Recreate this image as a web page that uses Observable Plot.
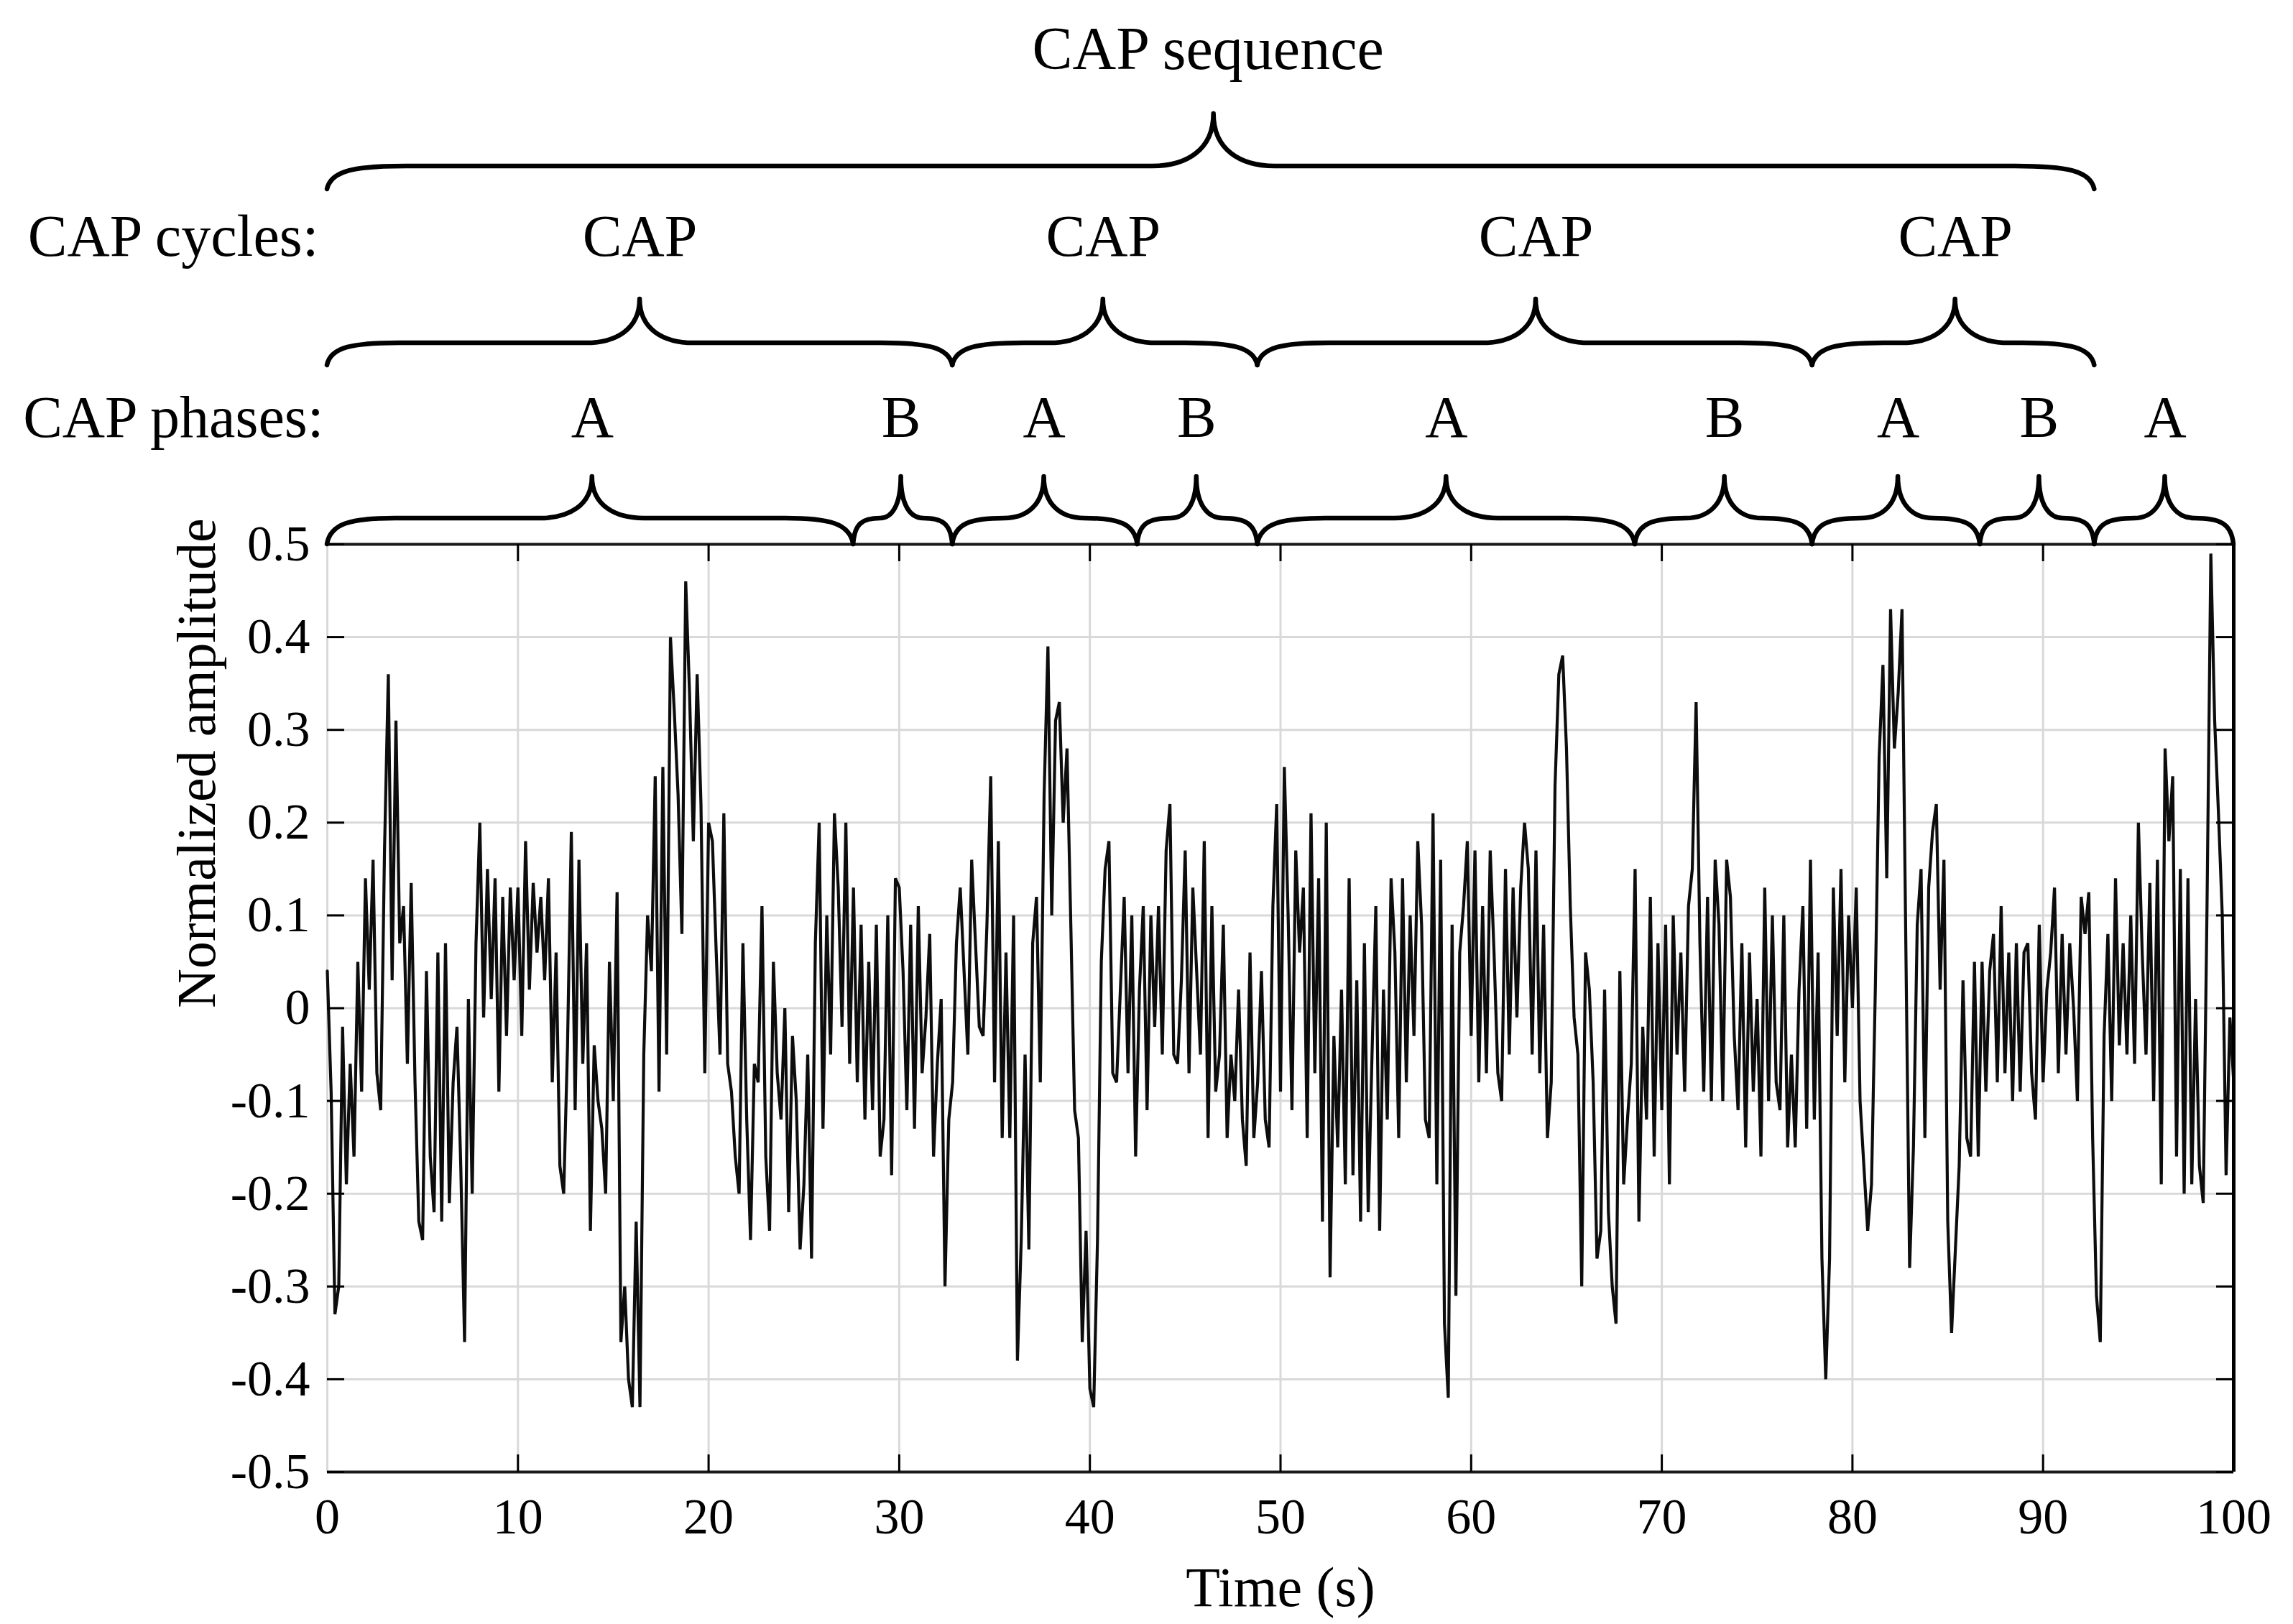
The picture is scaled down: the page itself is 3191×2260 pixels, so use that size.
<!DOCTYPE html>
<html>
<head>
<meta charset="utf-8">
<script src="https://cdn.jsdelivr.net/npm/d3@7"></script>
<script src="https://cdn.jsdelivr.net/npm/@observablehq/plot@0.6"></script>
<style>
  html, body { margin: 0; padding: 0; background: #ffffff; }
  #chart svg { display: block; }
</style>
</head>
<body>
<div id="chart"></div>
<script>
// ---------------- data ----------------
const sampleStep = 0.2; // seconds between samples

// 0.0 s – 13.6 s
const amp00 = [0.04,-0.09,-0.33,-0.3,-0.02,-0.19,-0.06,-0.16,0.05,-0.09,
  0.14,0.02,0.16,-0.07,-0.11,0.17,0.36,0.03,0.31,0.07,
  0.11,-0.06,0.135,-0.08,-0.23,-0.25,0.04,-0.16,-0.22,0.06,
  -0.23,0.07,-0.21,-0.08,-0.02,-0.17,-0.36,0.01,-0.2,0.07,
  0.2,-0.01,0.15,0.01,0.14,-0.09,0.12,-0.03,0.13,0.03,
  0.13,-0.03,0.18,0.02,0.135,0.06,0.12,0.03,0.14,-0.08,
  0.06,-0.17,-0.2,-0.04,0.19,-0.11,0.16,-0.06,0.07];
// 13.8 s – 29.0 s
const amp14 = [-0.24,-0.04,-0.1,-0.13,-0.2,0.05,-0.1,0.125,-0.36,-0.3,
  -0.4,-0.43,-0.23,-0.43,-0.05,0.1,0.04,0.25,-0.09,0.26,
  -0.05,0.4,0.32,0.23,0.08,0.46,0.34,0.18,0.36,0.22,
  -0.07,0.2,0.18,0.06,-0.05,0.21,-0.06,-0.09,-0.16,-0.2,
  0.07,-0.12,-0.25,-0.06,-0.08,0.11,-0.16,-0.24,0.05,-0.07,
  -0.12,0.0,-0.22,-0.03,-0.1,-0.26,-0.19,-0.05,-0.27,0.07,
  0.2,-0.13,0.1,-0.05,0.21,0.13,-0.02,0.2,-0.06,0.13,
  -0.08,0.09,-0.12,0.05,-0.11,0.09,-0.16];
// 29.2 s – 44.4 s
const amp29 = [-0.12,0.1,-0.18,0.14,0.13,0.04,-0.11,0.09,-0.13,0.11,
  -0.07,-0.01,0.08,-0.16,-0.06,0.01,-0.3,-0.12,-0.08,0.07,
  0.13,0.04,-0.05,0.16,0.07,-0.02,-0.03,0.09,0.25,-0.08,
  0.18,-0.14,0.06,-0.14,0.1,-0.38,-0.25,-0.05,-0.26,0.07,
  0.12,-0.08,0.23,0.39,0.1,0.31,0.33,0.2,0.28,0.09,
  -0.11,-0.14,-0.36,-0.24,-0.41,-0.43,-0.25,0.05,0.15,0.18,
  -0.07,-0.08,0.02,0.12,-0.07,0.1,-0.16,0.02,0.11,-0.11,
  0.1,-0.02,0.11,-0.05,0.17,0.22,-0.05];
// 44.6 s – 60.0 s
const amp45 = [-0.06,0.03,0.17,-0.07,0.13,0.04,-0.05,0.18,-0.14,0.11,
  -0.09,-0.05,0.09,-0.14,-0.05,-0.1,0.02,-0.12,-0.17,0.06,
  -0.14,-0.08,0.04,-0.12,-0.15,0.11,0.22,-0.09,0.26,0.1,
  -0.11,0.17,0.06,0.13,-0.14,0.21,-0.07,0.14,-0.23,0.2,
  -0.29,-0.03,-0.15,0.02,-0.19,0.14,-0.18,0.03,-0.23,0.07,
  -0.22,-0.05,0.11,-0.24,0.02,-0.12,0.14,0.06,-0.14,0.14,
  -0.08,0.1,-0.03,0.18,0.09,-0.12,-0.14,0.21,-0.19,0.16,
  -0.34,-0.42,0.09,-0.31,0.06,0.11,0.18,-0.03];
// 60.2 s – 75.4 s
const amp60 = [0.17,-0.08,0.11,-0.07,0.17,0.06,-0.07,-0.1,0.15,-0.05,
  0.13,-0.01,0.13,0.2,0.15,-0.05,0.17,-0.07,0.09,-0.14,
  -0.08,0.24,0.36,0.38,0.28,0.11,-0.01,-0.05,-0.3,0.06,
  0.02,-0.08,-0.27,-0.24,0.02,-0.22,-0.3,-0.34,0.04,-0.19,
  -0.12,-0.06,0.15,-0.23,-0.02,-0.12,0.12,-0.16,0.07,-0.11,
  0.09,-0.19,0.1,-0.05,0.06,-0.09,0.11,0.15,0.33,0.07,
  -0.09,0.12,-0.1,0.16,0.09,-0.1,0.16,0.12,-0.03,-0.11,
  0.07,-0.15,0.06,-0.09,0.01,-0.16,0.13];
// 75.6 s – 90.8 s
const amp76 = [-0.1,0.1,-0.08,-0.11,0.1,-0.15,-0.05,-0.15,0.02,0.11,
  -0.13,0.16,-0.12,0.06,-0.27,-0.4,-0.27,0.13,-0.03,0.15,
  -0.08,0.1,0.0,0.13,-0.1,-0.17,-0.24,-0.19,0.02,0.27,
  0.37,0.14,0.43,0.28,0.34,0.43,0.07,-0.28,-0.15,0.09,
  0.15,-0.14,0.13,0.19,0.22,0.02,0.16,-0.23,-0.35,-0.26,
  -0.17,0.03,-0.14,-0.16,0.05,-0.16,0.05,-0.09,0.04,0.08,
  -0.08,0.11,-0.07,0.06,-0.1,0.07,-0.09,0.06,0.07,-0.07,
  -0.12,0.09,-0.08,0.02,0.06,0.13,-0.07];
// 91.0 s – 100.0 s
const amp91 = [0.08,-0.05,0.07,0.0,-0.1,0.12,0.08,0.125,-0.14,-0.31,
  -0.36,-0.03,0.08,-0.1,0.14,-0.04,0.07,-0.05,0.1,-0.06,
  0.2,0.06,-0.05,0.135,-0.1,0.16,-0.19,0.28,0.18,0.25,
  -0.16,0.15,-0.2,0.14,-0.19,0.01,-0.17,-0.21,0.11,0.49,
  0.31,0.21,0.1,-0.18,-0.01,-0.08];

// axis ticks
const xTicks = [0, 10, 20, 30, 40, 50, 60, 70, 80, 90, 100];
const yTicks = [-0.5, -0.4, -0.3, -0.2, -0.1, 0, 0.1, 0.2, 0.3, 0.4, 0.5];

// annotation structure (times in seconds)
const phaseBounds = [0, 27.6, 32.8, 42.5, 48.8, 68.6, 77.9, 86.7, 92.7, 100];
const phaseTips   = [13.9, 30.1, 37.6, 45.6, 58.7, 73.3, 82.4, 89.8, 96.4];
const phaseLabels = ["A", "B", "A", "B", "A", "B", "A", "B", "A"];
const cycleBounds = [0, 32.8, 48.8, 77.9, 92.7];
const cycleTips   = [16.4, 40.7, 63.4, 85.4];
const cycleLabels = ["CAP", "CAP", "CAP", "CAP"];
const sequenceBounds = [0, 92.7];
const sequenceTips   = [46.5];
const sequenceLabels = ["CAP sequence"];

// ---------------- build tables ----------------
const amplitude = [].concat(amp00, amp14, amp29, amp45, amp60, amp76, amp91);
const series = amplitude.map((v, i) => ({time: +(i * sampleStep).toFixed(2), value: v}));

const rowsOf = (bounds, tips, labels) =>
  tips.map((tip, i) => ({x1: bounds[i], x2: bounds[i + 1], tip, label: labels[i]}));
const phaseRows = rowsOf(phaseBounds, phaseTips, phaseLabels);
const cycleRows = rowsOf(cycleBounds, cycleTips, cycleLabels);
const sequenceRows = rowsOf(sequenceBounds, sequenceTips, sequenceLabels);

// ---------------- layout ----------------
const W = 3191, H = 2260;
const mL = 455, mR = 83, mT = 757, mB = 212;
const frameW = W - mL - mR, frameH = H - mT - mB;
const tickLen = 24;
const FONT = "'Liberation Serif', 'Times New Roman', Times, serif";

// brace geometry (pixels above frame top): base, flat, tip
const braceGeom = {
  phase:    {base: 0,   flat: 36,  tip: 94,  rEnd: 95,  rTip: 72},
  cycle:    {base: 249, flat: 280, tip: 341, rEnd: 100, rTip: 75},
  sequence: {base: 494, flat: 526, tip: 599, rEnd: 110, rTip: 85}
};

function bracePath(xa, xb, xm, yBase, yFlat, yTip, rEnd, rTip) {
  const kl = Math.min(1, (xm - xa) / (rEnd + rTip));
  const kr = Math.min(1, (xb - xm) / (rEnd + rTip));
  const reL = rEnd * kl, rtL = rTip * kl, reR = rEnd * kr, rtR = rTip * kr;
  const dE = yBase - yFlat, dT = yFlat - yTip;
  const p = d3.path();
  p.moveTo(xa, yBase);
  p.bezierCurveTo(xa + 0.05 * reL, yBase - 0.8 * dE, xa + 0.35 * reL, yFlat, xa + reL, yFlat);
  p.lineTo(xm - rtL, yFlat);
  p.bezierCurveTo(xm - 0.45 * rtL, yFlat, xm, yFlat - 0.3 * dT, xm, yTip);
  p.bezierCurveTo(xm, yFlat - 0.3 * dT, xm + 0.45 * rtR, yFlat, xm + rtR, yFlat);
  p.lineTo(xb - reR, yFlat);
  p.bezierCurveTo(xb - 0.35 * reR, yFlat, xb - 0.05 * reR, yBase - 0.8 * dE, xb, yBase);
  return p.toString();
}

const braces = (rows, geom) => (index, scales, values, dimensions) => {
  const sx = scales.x;
  const top = (dimensions && dimensions.marginTop != null) ? dimensions.marginTop : mT;
  const g = d3.create("svg:g")
    .attr("fill", "none")
    .attr("stroke", "#000")
    .attr("stroke-width", 6.5)
    .attr("stroke-linejoin", "round")
    .attr("stroke-linecap", "round");
  for (const r of rows) {
    g.append("path").attr("d", bracePath(
      sx(r.x1), sx(r.x2), sx(r.tip),
      top - geom.base, top - geom.flat, top - geom.tip,
      geom.rEnd, geom.rTip));
  }
  return g.node();
};

const fmtY = d => String(Math.round(d * 10) / 10);
const innerX = xTicks.filter(d => d > 0 && d < 100);

const chart = Plot.plot({
  width: W,
  height: H,
  marginLeft: mL,
  marginRight: mR,
  marginTop: mT,
  marginBottom: mB,
  style: {fontFamily: FONT, background: "#ffffff", color: "#000000", overflow: "visible"},
  x: {domain: [0, 100]},
  y: {domain: [-0.5, 0.5]},
  marks: [
    // grid
    Plot.ruleX(xTicks, {x: d => d, stroke: "#d9d9d9", strokeWidth: 3}),
    Plot.ruleY(yTicks, {y: d => d, stroke: "#d9d9d9", strokeWidth: 3}),
    // signal
    Plot.line(series, {x: "time", y: "value", stroke: "#0d0d0d", strokeWidth: 4.2, strokeLinejoin: "miter", strokeMiterlimit: 2.5}),
    // frame (left side stays grey like the reference)
    Plot.ruleY([-0.5, 0.5], {y: d => d, stroke: "#1a1a1a", strokeWidth: 4}),
    Plot.ruleX([100], {x: d => d, stroke: "#000000", strokeWidth: 5}),
    // inward ticks
    Plot.tickY(yTicks, {y: d => d, insetRight: frameW - tickLen, stroke: "#000", strokeWidth: 3}),
    Plot.tickY(yTicks, {y: d => d, insetLeft: frameW - tickLen, stroke: "#000", strokeWidth: 3}),
    Plot.tickX(innerX, {x: d => d, insetTop: frameH - tickLen, stroke: "#000", strokeWidth: 3}),
    Plot.tickX(innerX, {x: d => d, insetBottom: frameH - tickLen, stroke: "#000", strokeWidth: 3}),
    // axes
    Plot.axisX(xTicks, {tickSize: 0, tickPadding: 36, fontSize: 70, label: null, tickFormat: d => String(d)}),
    Plot.axisY(yTicks, {tickSize: 0, tickPadding: 24, fontSize: 70, label: null, tickFormat: fmtY}),
    Plot.text(["Time (s)"], {frameAnchor: "bottom", dy: 186, lineAnchor: "bottom", fontSize: 78}),
    Plot.text(["Normalized amplitude"], {frameAnchor: "left", dx: -157, rotate: -90, lineAnchor: "bottom", fontSize: 76}),
    // annotation labels
    Plot.text(phaseRows, {x: "tip", text: "label", frameAnchor: "top", dy: -150, lineAnchor: "bottom", fontSize: 82}),
    Plot.text(cycleRows, {x: "tip", text: "label", frameAnchor: "top", dy: -402, lineAnchor: "bottom", fontSize: 82}),
    Plot.text(sequenceRows, {x: "tip", text: "label", frameAnchor: "top", dx: -8, dy: -662, lineAnchor: "bottom", fontSize: 84}),
    Plot.text(["CAP cycles:"], {frameAnchor: "top-left", dx: -12, dy: -402, textAnchor: "end", lineAnchor: "bottom", fontSize: 82}),
    Plot.text(["CAP phases:"], {frameAnchor: "top-left", dx: -5, dy: -150, textAnchor: "end", lineAnchor: "bottom", fontSize: 82}),
    // braces
    braces(phaseRows, braceGeom.phase),
    braces(cycleRows, braceGeom.cycle),
    braces(sequenceRows, braceGeom.sequence)
  ]
});

document.getElementById("chart").append(chart);
</script>
</body>
</html>
